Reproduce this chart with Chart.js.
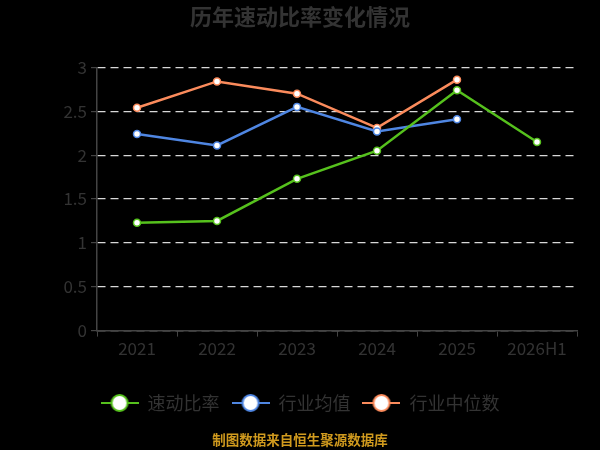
<!DOCTYPE html>
<html>
<head>
    <title>历年速动比率变化情况</title>
    <script src="https://cdn.jsdelivr.net/npm/chart.js"></script>
    <style>
        html, body {
            margin: 0;
            padding: 0;
            background: #000;
        }
        #chartContainer {
            width: 600px;
            height: 450px;
        }
    </style>
</head>
<body>
    <div id="chartContainer">
        <canvas id="myChart"></canvas>
    </div>

    <script>
        // Data
        const categories = ['2021', '2022', '2023', '2024', '2025', '2026H1'];
        const quickRatio = [1.23, 1.25, 1.73, 2.05, 2.74, 2.15];
        const industryMean = [2.24, 2.11, 2.55, 2.27, 2.41, null];
        const industryMedian = [2.54, 2.84, 2.70, 2.31, 2.86, null];
        const yTicks = [0, 0.5, 1, 1.5, 2, 2.5, 3];

        const green = '#56c11d';
        const blue = '#4f86e2';
        const orange = '#fb8b5c';
        const textColor = '#333333';
        const fontFamily = '"Noto Sans CJK SC", "Open Sans", sans-serif';

        // Legend icon: short line with a hollow circle in the middle
        function legendIcon(color) {
            const c = document.createElement('canvas');
            c.width = 38;
            c.height = 20;
            const g = c.getContext('2d');
            g.strokeStyle = color;
            g.lineWidth = 2;
            g.beginPath();
            g.moveTo(0, 10);
            g.lineTo(38, 10);
            g.stroke();
            g.beginPath();
            g.arc(19, 10, 8, 0, Math.PI * 2);
            g.fillStyle = '#fff';
            g.fill();
            g.stroke();
            return c;
        }

        function series(label, values, color) {
            return {
                label: label,
                data: values,
                borderColor: color,
                backgroundColor: '#fff',
                borderWidth: 2.5,
                pointRadius: 3.5,
                pointBorderWidth: 1.5,
                pointBorderColor: color,
                pointBackgroundColor: '#fff',
                tension: 0,
                fill: false,
                spanGaps: false
            };
        }

        // draws the source note under the legend
        const footerNote = {
            id: 'footerNote',
            afterDraw(chart) {
                const ctx = chart.ctx;
                ctx.save();
                ctx.font = 'bold 13.5px ' + fontFamily;
                ctx.fillStyle = '#d09a1e';
                ctx.textAlign = 'center';
                ctx.textBaseline = 'middle';
                ctx.fillText('制图数据来自恒生聚源数据库', 300, 440);
                ctx.restore();
            }
        };

        const config = {
            type: 'line',
            data: {
                labels: categories,
                datasets: [
                    series('速动比率', quickRatio, green),
                    series('行业均值', industryMean, blue),
                    series('行业中位数', industryMedian, orange)
                ]
            },
            options: {
                responsive: false,
                animation: false,
                layout: {
                    padding: { left: 0, right: 0, top: 0, bottom: 28 }
                },
                plugins: {
                    title: {
                        display: true,
                        text: '历年速动比率变化情况',
                        color: textColor,
                        font: { size: 22, weight: 'bold', family: fontFamily },
                        padding: { top: 3, bottom: 38 }
                    },
                    legend: {
                        position: 'bottom',
                        labels: {
                            color: textColor,
                            font: { size: 18, family: fontFamily },
                            usePointStyle: true,
                            pointStyleWidth: 38,
                            padding: 12,
                            generateLabels(chart) {
                                return chart.data.datasets.map((ds, i) => ({
                                    text: ds.label,
                                    fontColor: textColor,
                                    pointStyle: legendIcon(ds.borderColor),
                                    strokeStyle: ds.borderColor,
                                    fillStyle: '#fff',
                                    lineWidth: 0,
                                    hidden: !chart.isDatasetVisible(i),
                                    datasetIndex: i
                                }));
                            }
                        }
                    },
                    tooltip: { enabled: false }
                },
                scales: {
                    x: {
                        offset: true,
                        afterFit(scale) {
                            scale.height += 21;
                        },
                        ticks: {
                            color: textColor,
                            font: { size: 17, family: fontFamily },
                            padding: 2
                        },
                        grid: {
                            display: true,
                            offset: true,
                            drawOnChartArea: false,
                            drawTicks: true,
                            tickLength: 6,
                            color: '#444'
                        },
                        border: { display: true, color: '#444', width: 1.5 }
                    },
                    y: {
                        min: 0,
                        max: 3,
                        afterBuildTicks(scale) {
                            scale.ticks = yTicks.map(v => ({ value: v }));
                        },
                        afterFit(scale) {
                            scale.width = 97;
                        },
                        ticks: {
                            color: textColor,
                            font: { size: 17, family: fontFamily },
                            padding: 4,
                            callback: v => String(v)
                        },
                        grid: {
                            color: '#d8d8d8',
                            lineWidth: 1.2,
                            drawTicks: true,
                            tickLength: 6,
                            tickColor: '#444',
                            tickBorderDash: []
                        },
                        border: { display: true, color: '#444', width: 1.5, dash: [8, 5] }
                    },
                    // empty right-hand axis: only keeps the plot clear of the right edge
                    yRight: {
                        position: 'right',
                        display: true,
                        afterFit(scale) {
                            scale.width = 23;
                        },
                        ticks: { display: false },
                        grid: { display: false },
                        border: { display: false }
                    }
                }
            },
            plugins: [footerNote]
        };

        const ctx = document.getElementById('myChart');
        ctx.width = 600;
        ctx.height = 450;
        const myChart = new Chart(ctx, config);
    </script>
</body>
</html>
